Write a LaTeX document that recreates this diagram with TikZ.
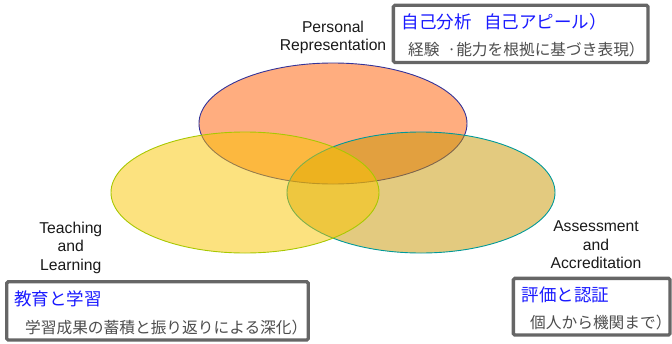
\documentclass[tikz,border=0pt]{standalone}
\usepackage{fontspec}
\setmainfont{Liberation Sans}
\newfontfamily\jp{Noto Sans CJK JP}
\definecolor{topfill}{HTML}{FF5B00}
\definecolor{leftfill}{HTML}{F9C500}
\definecolor{rightfill}{HTML}{C79500}
\definecolor{topline}{HTML}{333399}
\definecolor{leftline}{HTML}{A8C800}
\definecolor{rightline}{HTML}{009999}
\definecolor{boxline}{HTML}{666666}
\definecolor{jpblue}{HTML}{1A1AFF}
\definecolor{jpgray}{HTML}{4D4D4D}
\begin{document}
\begin{tikzpicture}[x=1pt,y=-1pt,
  venn/.style={line width=0.9pt, fill opacity=0.5},
  lbl/.style={align=center, inner sep=0pt, font=\fontsize{15.7}{18.5}\selectfont, text=black!90},
  frame/.style={draw=boxline, line width=3.3pt, rounded corners=1.5pt, fill=white, inner sep=0pt},
  jphead/.style={anchor=base west, inner sep=0pt, text=jpblue, font=\jp\fontsize{17.5}{20}\selectfont},
  jpsub/.style={anchor=base west, inner sep=0pt, text=jpgray, font=\jp\fontsize{15.7}{18}\selectfont}]
\useasboundingbox (0,0) rectangle (672,343);
% Venn ellipses
\draw[venn, draw=topline, fill=topfill] (333,123.5) ellipse [x radius=134, y radius=60.5];
\draw[venn, draw=rightline, fill=rightfill] (421,192.5) ellipse [x radius=134, y radius=60.5];
\draw[venn, draw=leftline, fill=leftfill] (245,192.5) ellipse [x radius=134, y radius=60.5];
% English labels
\node[lbl] (personal) at (333,37.3) {Personal\\Representation};
\node[lbl] (teaching) at (70.8,247.5) {Teaching\\and\\Learning};
\node[lbl] (assess) at (596,245) {Assessment\\and\\Accreditation};
% Boxes
\node[frame, minimum width=254.7pt, minimum height=57.2pt] (boxtr) at (520.7,33.9) {};
\node[frame, minimum width=301.6pt, minimum height=58.3pt] (boxbl) at (157.5,310.9) {};
\node[frame, minimum width=156.7pt, minimum height=56.7pt] (boxbr) at (591.7,306.7) {};
% Japanese texts
\node[jphead] (trh) at (401.7,28.5) {自己分析\hspace{0.7em}自己アピール）};
\node[jpsub] (trs) at (408,55) {経験\hspace{0.5em}·能力を根拠に基づき表現）};
\node[jphead] (blh) at (14,305) {教育と学習};
\node[jpsub] (bls) at (25,333) {学習成果の蓄積と振り返りによる深化）};
\node[jphead] (brh) at (521.7,301) {評価と認証};
\node[jpsub] (brs) at (530,328) {個人から機関まで）};
\end{tikzpicture}
\end{document}
